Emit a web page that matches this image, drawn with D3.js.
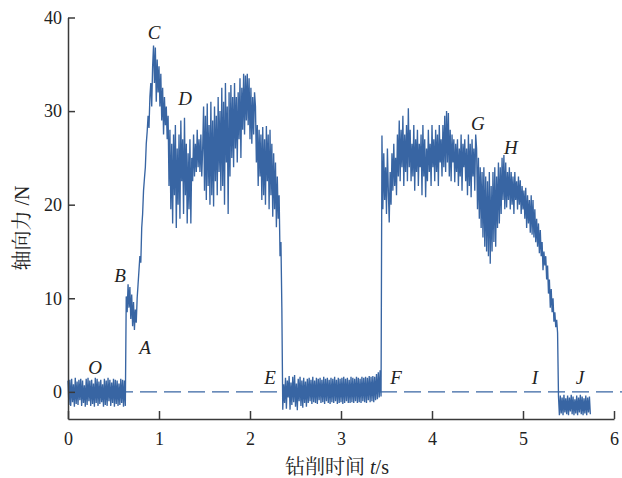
<!DOCTYPE html>
<html>
<head>
<meta charset="utf-8">
<script src="https://cdn.jsdelivr.net/npm/d3@7"></script>
<style>
  html, body { margin: 0; padding: 0; background: #fff; }
  svg { display: block; }
</style>
</head>
<body>
<svg id="chart" width="622" height="478"></svg>
<script>
// ---------------- data (axial force, N; sampled every 0.01 s) ----------------
const sampleStep = 0.01;
const segmentStart = [0.00, 0.64, 2.36, 3.45, 5.39];

// O: idle before entry (0.00 - 0.63 s)
const idleStart = [1.2,-1.4,1.3,-1.5,1.4,-1.1,0.8,-1.6,
  1.5,-1.3,1.1,-1.4,1.3,-0.9,1.4,-1.5,
  1.2,-1.2,0.7,-1.6,1.4,-1.4,1.5,-1.0,
  1.2,-1.5,1.3,-1.3,0.9,-1.6,1.5,-1.2,
  1.4,-1.5,1.1,-1.3,1.3,-1.1,0.8,-1.6,
  1.4,-1.4,1.2,-1.5,1.5,-1.0,1.3,-1.5,
  1.0,-1.2,1.4,-1.6,1.3,-1.3,1.2,-1.5,
  0.9,-1.4,1.4,-1.2,1.3,-1.6,1.2,-1.5];

// A-B-C-D-E: first drilling stage (0.64 - 2.35 s)
const cutting1 = [
  10.2,8.5,11.5,9.0,11.2,7.8,10.4,7.0,9.6,6.6,8.8,7.4,10.0,
  11.5,13.0,14.5,13.8,17.5,19.0,21.5,22.8,24.0,26.5,27.8,29.5,28.2,31.5,33.0,30.5,34.8,
  37.0,33.0,36.8,31.0,35.5,32.0,34.8,30.5,34.0,29.0,32.5,27.5,31.5,28.5,30.5,27.0,29.5,
  22.0,28.0,19.5,26.5,18.0,27.5,21.0,28.5,17.5,26.0,20.0,27.5,18.5,29.0,22.5,27.0,19.0,29.3,21.0,26.5,18.0,25.5,19.5,27.0,18.0,
  25.0,22.5,27.5,23.0,26.5,23.5,28.0,24.0,27.0,23.5,
  27.5,23.0,26.0,30.5,21.5,29.5,20.5,30.8,22.0,28.5,20.0,31.0,21.0,29.0,19.8,30.5,22.5,29.5,21.0,31.5,23.5,30.0,21.5,32.5,22.0,31.0,20.0,33.0,24.5,30.5,19.0,32.0,23.0,32.8,25.0,31.5,24.0,
  33.0,26.0,31.5,24.5,32.0,27.0,33.5,25.0,32.5,28.0,34.0,27.5,33.8,29.0,34.0,28.5,33.5,27.0,32.5,26.5,31.5,27.5,32.0,
  30.5,24.5,28.5,22.0,28.0,23.0,27.5,20.5,28.3,21.0,27.0,20.0,28.4,22.5,27.5,19.5,28.0,21.0,26.5,18.7,25.5,19.5,24.5,17.6,23.0,
  18.5,21.0,14.5,16.0,9.0];

// E-F: idle between the two stages (2.36 - 3.44 s)
const idleMid = [
  -1.9,0.8,-1.2,1.5,-1.8,1.2,-0.6,1.7,-1.9,1.0,-1.4,1.6,-1.1,1.8,-1.6,0.9,-1.95,1.4,-1.0,1.6,-1.5,1.2,-1.7,1.5,-1.2,1.1,-1.6,
  1.4,-1.2,1.5,-1.0,1.3,-1.3,1.6,-1.1,1.2,-1.2,
  1.5,-1.3,1.4,-0.9,1.5,-1.2,1.3,-1.1,1.6,-1.3,
  1.4,-1.0,1.5,-1.2,1.3,-1.3,1.5,-1.1,1.4,-1.2,
  1.6,-1.0,1.3,-1.3,1.5,-1.2,1.4,-1.1,1.5,-1.3,
  1.6,-1.2,1.4,-1.0,1.5,-1.2,1.3,-1.2,1.6,-1.1,
  1.5,-1.2,1.4,-1.0,1.6,-1.2,1.5,-1.1,1.4,-1.2,
  1.6,-1.0,1.5,-1.1,1.6,-1.2,1.5,-0.9,1.7,-1.1,
  1.6,-1.0,1.7,-1.1,1.6,
  -0.9,1.9,-0.8,2.1,-0.6,2.3,-0.5];

// F-G-H-I: second drilling stage (3.45 - 5.38 s)
const cutting2 = [
  27.4,19.5,25.5,20.5,24.0,19.0,26.0,21.5,18.1,23.5,20.0,
  25.5,21.5,26.5,22.0,25.0,21.0,27.5,23.0,29.0,22.5,28.0,24.0,29.5,22.0,27.5,23.5,28.5,22.5,30.3,24.0,
  28.0,22.5,26.5,23.0,28.5,21.5,27.0,23.5,28.0,22.0,26.5,24.0,27.5,21.0,28.5,23.0,27.0,20.8,26.0,22.5,28.0,23.5,26.5,22.0,28.5,24.0,27.0,22.5,28.0,23.5,27.5,22.0,28.5,24.5,27.0,
  23.0,28.5,24.0,29.5,23.5,30.0,24.5,29.8,23.0,28.0,22.5,27.5,24.5,27.0,22.4,
  26.5,23.5,27.0,22.0,26.0,23.0,27.5,21.5,26.5,24.0,27.0,22.5,26.0,21.0,27.5,22.0,26.5,20.8,27.0,23.0,26.0,21.5,27.5,
  26.0,19.5,25.0,18.5,24.0,17.5,23.5,16.5,24.0,15.5,23.0,15.0,22.5,14.5,23.5,13.7,22.0,
  15.0,23.5,16.0,24.0,15.5,23.0,17.5,24.5,18.0,24.0,19.0,25.0,20.5,25.3,19.5,
  24.5,19.7,23.5,20.5,24.0,19.5,23.5,20.0,23.0,19.0,23.5,20.5,22.5,19.5,23.0,20.0,22.6,19.0,22.0,19.5,
  21.5,18.5,21.8,17.5,21.0,18.0,20.5,17.0,21.0,16.8,20.5,16.5,19.5,16.0,18.5,15.5,18.0,14.8,17.3,14.5,
  16.0,13.0,15.0,13.5,14.5,12.0,13.5,10.5,12.0,9.0,11.0,8.5,10.0,7.5,8.5,6.9,7.7,6.3];

// J: idle after exit (5.39 - 5.74 s)
const idleEnd = [-0.5,-2.5,-0.4,-2.3,-0.6,-2.5,-0.3,-2.2,-0.7,-2.4,-0.4,-2.5,
  -0.6,-2.1,-0.3,-2.4,-0.5,-2.5,-0.8,-2.3,-0.4,-2.5,-0.6,-2.2,
  -0.3,-2.4,-0.5,-2.5,-0.7,-2.3,-0.4,-2.5,-0.6,-2.2,-0.5,-2.4];

const xTicks = [0, 1, 2, 3, 4, 5, 6];
const yTicks = [0, 10, 20, 30, 40];

// point labels
const pointNames = ["O", "A", "B", "C", "D", "E", "F", "G", "H", "I", "J"];
const pointT = [0.297, 0.846, 0.571, 0.945, 1.286, 2.22, 3.604, 4.505, 4.868, 5.132, 5.626];
const pointV = [2.64, 4.78, 12.47, 38.45, 31.3, 1.57, 1.57, 28.72, 26.16, 1.57, 1.57];

// ---------------- chart ----------------
const svg = d3.select("#chart");
const lineColor = "#3865a3";
const axisColor = "#3a3a3a";
const serif = "'Liberation Serif', 'Times New Roman', 'DejaVu Serif', serif";
const cjk = "'Liberation Serif', 'Noto Serif CJK SC', 'Noto Sans CJK SC', serif";

const x = d3.scaleLinear().domain([0, 6]).range([68, 614]);
const y = d3.scaleLinear().domain([-2.9, 40]).range([419, 17.5]);

const series = [idleStart, cutting1, idleMid, cutting2, idleEnd];
const points = series.flatMap((seg, k) =>
  seg.map((v, i) => ({ t: segmentStart[k] + i * sampleStep, v })));

// zero reference dashed line
svg.append("line")
  .attr("x1", x(0)).attr("x2", 622)
  .attr("y1", y(0)).attr("y2", y(0))
  .attr("stroke", lineColor)
  .attr("stroke-width", 1.2)
  .attr("stroke-dasharray", "17,7");

// signal
svg.append("path")
  .datum(points)
  .attr("fill", "none")
  .attr("stroke", lineColor)
  .attr("stroke-width", 1.35)
  .attr("stroke-linejoin", "miter")
  .attr("d", d3.line().x(d => x(d.t)).y(d => y(d.v)));

// axes
const xAxis = svg.append("g")
  .attr("transform", `translate(0,${y.range()[0]})`)
  .call(d3.axisBottom(x).tickValues(xTicks).tickFormat(d3.format("d"))
    .tickSizeInner(-8).tickSizeOuter(0).tickPadding(13));
const yAxis = svg.append("g")
  .attr("transform", `translate(${x.range()[0]},0)`)
  .call(d3.axisLeft(y).tickValues(yTicks).tickFormat(d3.format("d"))
    .tickSizeInner(-7).tickSizeOuter(0).tickPadding(6));

[xAxis, yAxis].forEach(g => {
  g.select(".domain").attr("stroke", axisColor).attr("stroke-width", 1.5);
  g.selectAll(".tick line").attr("stroke", axisColor).attr("stroke-width", 1.5);
  g.selectAll(".tick text")
    .attr("fill", "#222")
    .style("font-family", serif)
    .style("font-size", "18px");
});

// axis titles
const xTitle = svg.append("text")
  .attr("x", 337).attr("y", 474)
  .attr("text-anchor", "middle")
  .attr("fill", "#222")
  .style("font-family", cjk)
  .style("font-size", "20px");
xTitle.append("tspan").text("钻削时间 ");
xTitle.append("tspan").style("font-style", "italic").text("t");
xTitle.append("tspan").text("/s");

const yTitle = svg.append("text")
  .attr("transform", "translate(29,228) rotate(-90)")
  .attr("text-anchor", "middle")
  .attr("fill", "#222")
  .style("font-family", cjk)
  .style("font-size", "20px");
yTitle.append("tspan").text("轴向力 /N");

// point labels
svg.append("g").selectAll("text")
  .data(pointNames)
  .join("text")
  .attr("x", (d, i) => x(pointT[i]))
  .attr("y", (d, i) => y(pointV[i]))
  .attr("text-anchor", "middle")
  .attr("dominant-baseline", "central")
  .attr("fill", "#222")
  .style("font-family", serif)
  .style("font-style", "italic")
  .style("font-size", "19px")
  .text(d => d);
</script>
</body>
</html>
